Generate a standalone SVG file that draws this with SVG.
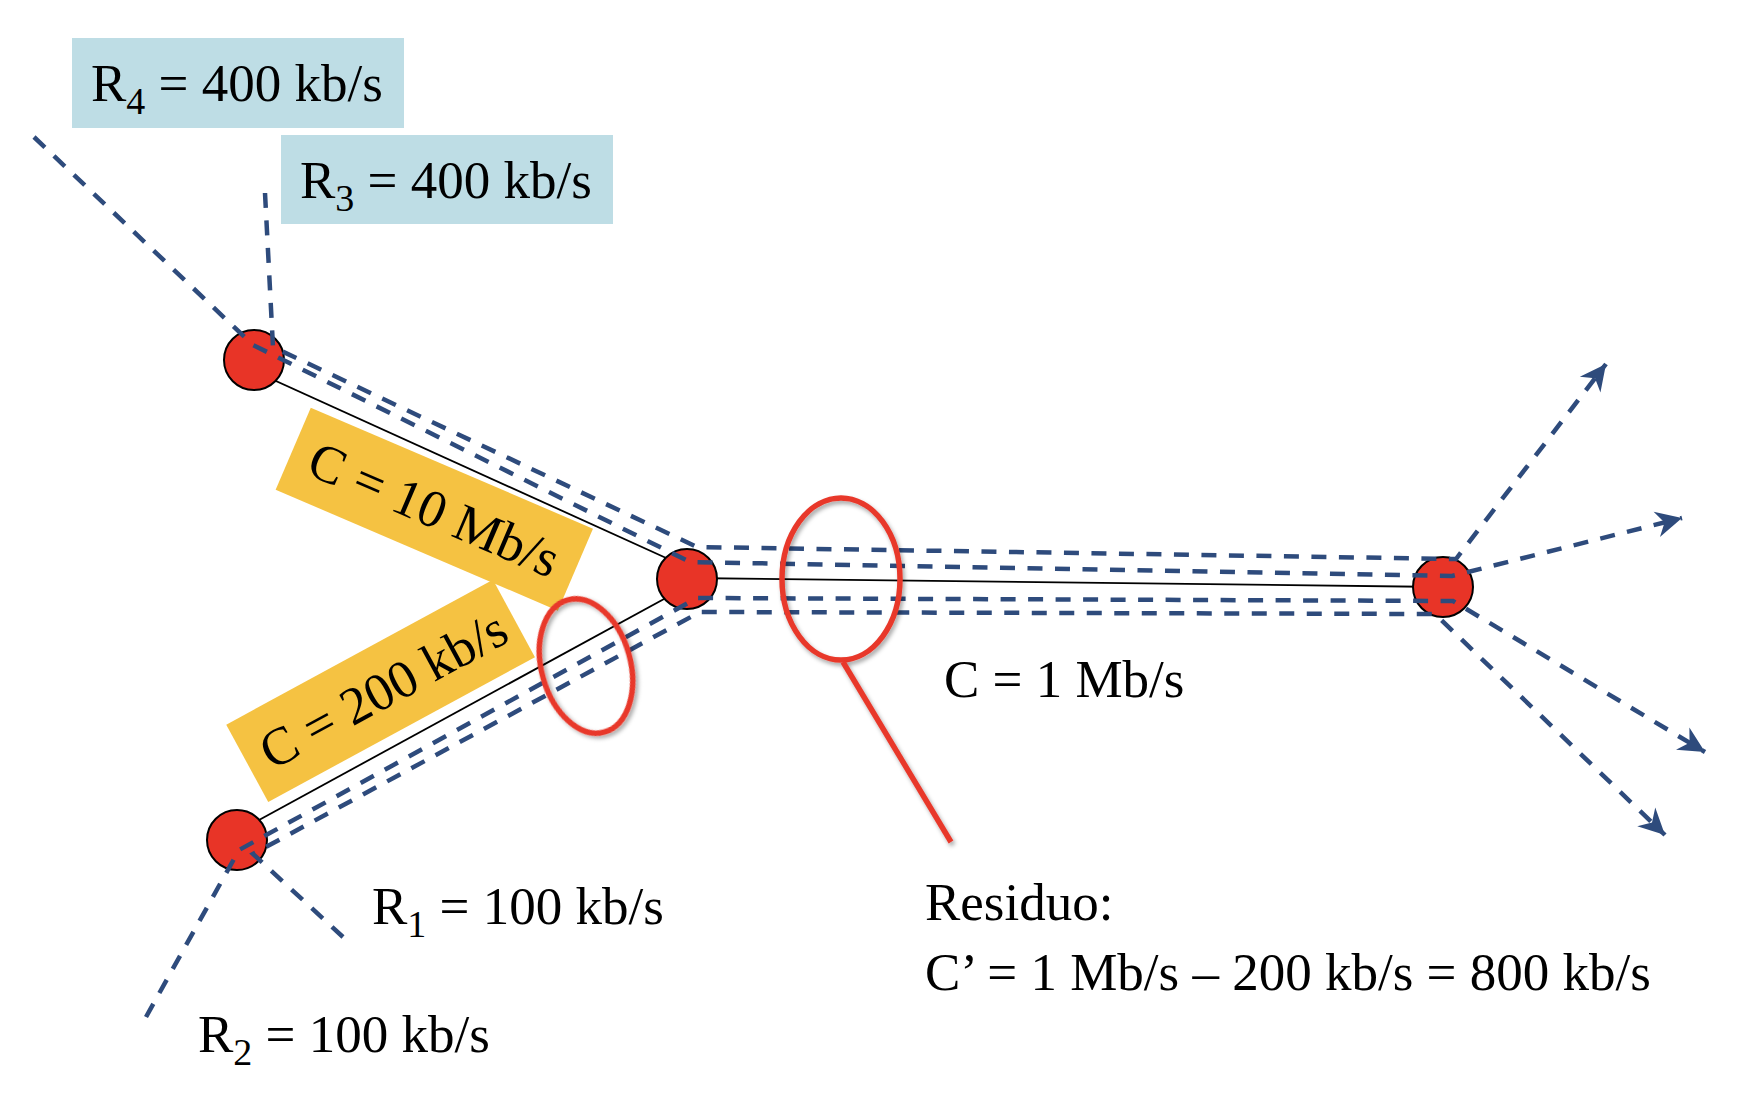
<svg xmlns="http://www.w3.org/2000/svg" width="1746" height="1094" viewBox="0 0 1746 1094">
  <style>
    .t { font-family: "Liberation Serif", "Times New Roman", serif; font-size: 53px; fill: #000; }
    .sub { font-size: 38px; }
    .blue { fill: #BEDDE5; }
    .orange { fill: #F5C242; }
    .link { stroke: #000; stroke-width: 1.8; fill: none; }
    .node { fill: #E83427; stroke: #000; stroke-width: 2; }
    .flow { stroke: #2E4B7C; stroke-width: 4.5; fill: none; stroke-dasharray: 15 12.5; marker-end: url(#arr); }
    .hl { stroke: #E8392B; stroke-width: 5.5; fill: none; filter: url(#sh); }
  </style>
  <defs>
    <marker id="arr" markerUnits="userSpaceOnUse" markerWidth="40" markerHeight="40" viewBox="-30 -20 40 40" refX="0" refY="0" orient="auto">
      <path d="M0,0 L-26,-13 L-18,0 L-26,13 Z" fill="#2E4B7C"/>
    </marker>
    <filter id="sh" x="-20%" y="-20%" width="140%" height="140%">
      <feDropShadow dx="2" dy="3" stdDeviation="2" flood-color="#000" flood-opacity="0.35"/>
    </filter>
  </defs>
  <rect width="1746" height="1094" fill="#fff"/>

  <!-- capacity labels (orange) -->
  <g id="label-c200">
    <g transform="translate(380.6,690.9) rotate(-28.5)">
      <rect class="orange" x="-151.75" y="-44" width="303.5" height="88"/>
      <text class="t" x="3" y="18" text-anchor="middle">C = 200 kb/s</text>
    </g>
  </g>
  <g id="label-c10">
    <g transform="translate(434.3,509.2) rotate(23.2)">
      <rect class="orange" x="-153.5" y="-44.6" width="307" height="89.2"/>
      <text class="t" x="0" y="18" text-anchor="middle">C = 10 Mb/s</text>
    </g>
  </g>

  <!-- rate labels (blue) -->
  <g id="label-r4">
    <rect class="blue" x="72" y="38" width="332" height="90"/>
    <text class="t" x="91" y="101">R<tspan class="sub" dy="13">4</tspan><tspan dy="-13"> = 400 kb/s</tspan></text>
  </g>
  <g id="label-r3">
    <rect class="blue" x="281" y="135" width="332" height="89"/>
    <text class="t" x="300" y="198">R<tspan class="sub" dy="13">3</tspan><tspan dy="-13"> = 400 kb/s</tspan></text>
  </g>
  <g id="label-r1">
    <text class="t" x="372" y="924">R<tspan class="sub" dy="13">1</tspan><tspan dy="-13"> = 100 kb/s</tspan></text>
  </g>
  <g id="label-r2">
    <text class="t" x="198" y="1052">R<tspan class="sub" dy="13">2</tspan><tspan dy="-13"> = 100 kb/s</tspan></text>
  </g>
  <g id="label-c1">
    <text class="t" x="944" y="697">C = 1 Mb/s</text>
  </g>
  <g id="label-residuo">
    <text class="t" x="925" y="920">Residuo:</text>
    <text class="t" x="925" y="990">C’ = 1 Mb/s – 200 kb/s = 800 kb/s</text>
  </g>

  <!-- physical links -->
  <g id="links">
    <line class="link" x1="254" y1="371" x2="686" y2="567"/>
    <line class="link" x1="237" y1="832" x2="686" y2="587"/>
    <line class="link" x1="687" y1="578" x2="1443" y2="587"/>
  </g>

  <!-- routers -->
  <g id="node-n1"><circle class="node" cx="254" cy="360" r="30"/></g>
  <g id="node-n2"><circle class="node" cx="687" cy="579" r="30"/></g>
  <g id="node-n3"><circle class="node" cx="237" cy="840" r="30"/></g>
  <g id="node-n4"><circle class="node" cx="1443" cy="587" r="30"/></g>

  <!-- flows -->
  <g id="connectors">
    <path id="flow-r3" class="flow" d="M265,193 L273,347 L697,547 L1456,559 L1606,364"/>
    <path id="flow-r4" class="flow" d="M34,137 L253,345 L690,562 L1452,576 L1682,518"/>
    <path id="flow-r2" class="flow" d="M146,1017 L239,850 L697,598 L1453,601 L1705,752"/>
    <path id="flow-r1" class="flow" d="M343,937 L253,854 L700,612 L1435,614 L1665,835"/>
  </g>

  <!-- highlights -->
  <g id="highlight-bottleneck">
    <ellipse class="hl" cx="586" cy="666" rx="44.5" ry="68.5" transform="rotate(-15.5 586 666)"/>
  </g>
  <g id="highlight-residual">
    <ellipse class="hl" cx="841" cy="579" rx="59" ry="81"/>
    <line class="hl" x1="843" y1="662" x2="951" y2="842" stroke-width="4.5"/>
  </g>
</svg>
